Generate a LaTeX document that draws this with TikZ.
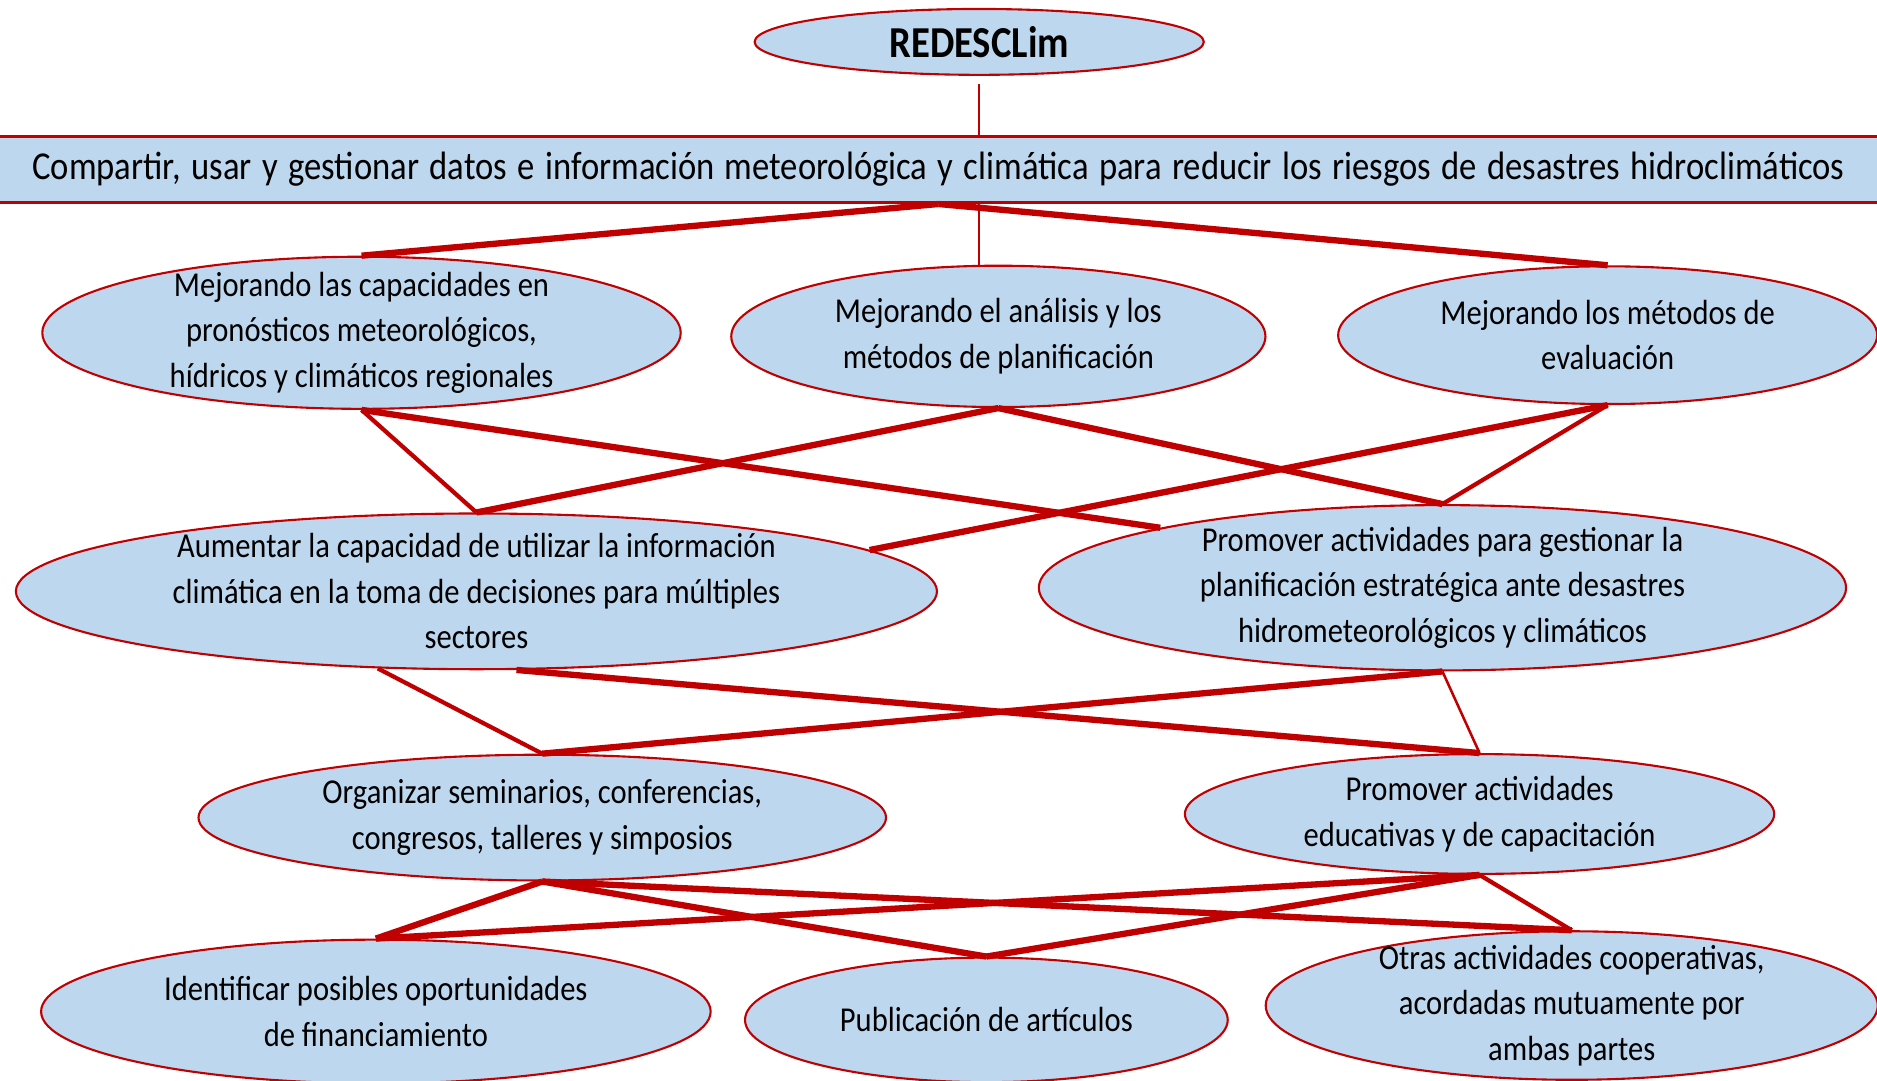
\documentclass[tikz,border=0pt]{standalone}
\usepackage{fontspec}
\setmainfont{Carlito}[FakeStretch=0.875]
\usetikzlibrary{shapes.geometric}
\definecolor{bubblue}{RGB}{189,215,238}
\definecolor{linkred}{RGB}{192,0,0}

\begin{document}
\begin{tikzpicture}[x=0.01cm, y=-0.01cm,
    bub/.style={ellipse, draw=linkred, line width=0.5pt, fill=bubblue, inner sep=0pt},
    txt/.style={align=center, inner sep=0pt, font=\fontsize{8.3}{10.8}\selectfont},
    wire/.style={draw=linkred, line width=0.6pt},
    wiremid/.style={draw=linkred, line width=1pt},
    wirefat/.style={draw=linkred, line width=1.5pt}]
        \useasboundingbox (0,0) rectangle (1568,903);

        % top and goal bar
        \node[bub, minimum width=3.75cm, minimum height=0.55cm] (red) at (818,35) {};
        \node[font=\fontsize{10.5}{12}\selectfont\bfseries] at (red) {REDESCLim};
        \node[draw=linkred, line width=0.8pt, fill=bubblue, inner sep=0pt,
              minimum width=15.76cm, minimum height=0.55cm] (bar) at (784,141.5)
              {\fontsize{9.4}{10}\selectfont\makebox[15.13cm][s]{Compartir, usar y gestionar datos e información meteorológica y climática para reducir los riesgos de desastres hidroclimáticos}};

        % second row
        \node[bub, minimum width=5.33cm, minimum height=1.27cm] (mej1) at (302,278) {};
        \node[txt] at (mej1) {Mejorando las capacidades en\\pronósticos meteorológicos,\\hídricos y climáticos regionales};
        \node[bub, minimum width=4.46cm, minimum height=1.18cm] (mej2) at (834,281) {};
        \node[txt] at (mej2) {Mejorando el análisis y los\\métodos de planificación};
        \node[bub, minimum width=4.50cm, minimum height=1.15cm] (mej3) at (1343,280) {};
        \node[txt] at (mej3) {Mejorando los métodos de\\evaluación};

        % third row
        \node[bub, minimum width=7.69cm, minimum height=1.30cm] (aum) at (398,494) {};
        \node[txt] at (aum) {Aumentar la capacidad de utilizar la información\\climática en la toma de decisiones para múltiples\\sectores};
        \node[bub, minimum width=6.74cm, minimum height=1.38cm] (prom) at (1205,491) {};
        \node[txt] at (prom) {Promover actividades para gestionar la\\planificación estratégica ante desastres\\hidrometeorológicos y climáticos};

        % fourth row
        \node[bub, minimum width=5.74cm, minimum height=1.05cm] (org) at (453,683) {};
        \node[txt] at (org) {Organizar seminarios, conferencias,\\congresos, talleres y simposios};
        \node[bub, minimum width=4.92cm, minimum height=1.00cm] (edu) at (1236,680) {};
        \node[txt] at (edu) {Promover actividades\\educativas y de capacitación};

        % bottom row
        \node[bub, minimum width=5.59cm, minimum height=1.20cm] (fin) at (314,845) {};
        \node[txt] at (fin) {Identificar posibles oportunidades\\de financiamiento};
        \node[bub, minimum width=4.03cm, minimum height=1.04cm] (pub) at (824,852) {};
        \node[txt] at (pub) {Publicación de artículos};
        \node[bub, minimum width=5.11cm, minimum height=1.24cm] (otr) at (1313,840) {};
        \node[txt] at (otr) {Otras actividades cooperativas,\\acordadas mutuamente por\\ambas partes};

        % links
        \draw[wire, shorten <=2pt] (red.south) -- (bar.north -| red.south);
        \draw[wirefat] (bar.south) -- (mej1.north);
        \draw[wirefat] (bar.south) -- (mej3.north);
        \draw[wire] (bar.south -| mej2.105) -- (mej2.105);

        \draw[wiremid] (mej1.south) -- (aum.north);
        \draw[wirefat] (mej1.south) -- (prom.168.5);
        \draw[wirefat] (mej2.south) -- (aum.north);
        \draw[wirefat] (mej2.south) -- (prom.north);
        \draw[wiremid] (mej3.south) -- (prom.north);
        \draw[wirefat] (mej3.south) -- (aum.6.4);

        \draw[wiremid] (aum.218.5) -- (org.north);
        \draw[wirefat] (aum.297.7) -- (edu.north);
        \draw[wirefat] (prom.south) -- (org.north);
        \draw[wire] (prom.south) -- (edu.north);

        \foreach \t in {fin,pub,otr}
            \draw[wirefat] (org.south) -- (\t.north);
        \draw[wirefat] (edu.south) -- (fin.north);
        \draw[wirefat] (edu.south) -- (pub.north);
        \draw[wiremid] (edu.south) -- (otr.north);
\end{tikzpicture}
\end{document}
